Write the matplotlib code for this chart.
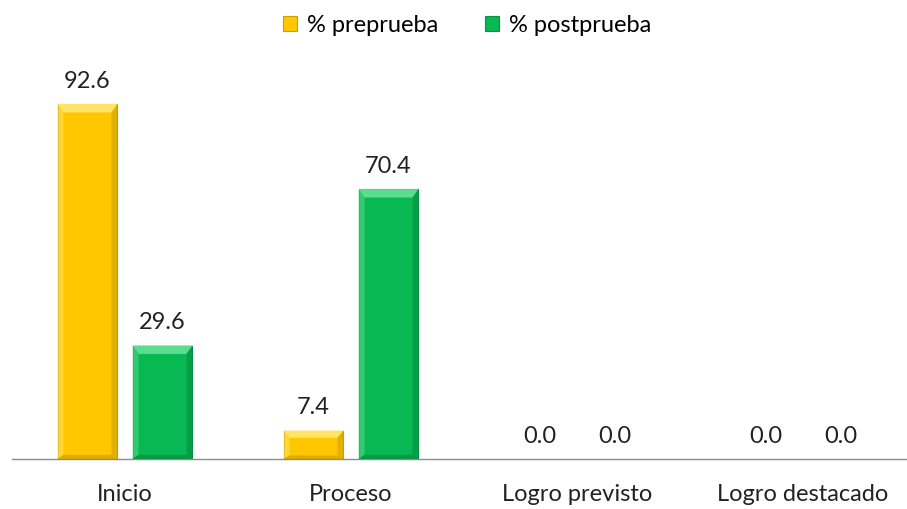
import numpy as np
import matplotlib
matplotlib.use("Agg")
import matplotlib.pyplot as plt
from matplotlib.patches import Polygon

plt.rcParams['font.family'] = ['Lato', 'DejaVu Sans']

categorias = ["Inicio", "Proceso", "Logro previsto", "Logro destacado"]
preprueba = [92.6, 7.4, 0.0, 0.0]
postprueba = [29.6, 70.4, 0.0, 0.0]

c_pre = "#FFC700"
c_post = "#07B853"

fig = plt.figure(figsize=(9.07, 5.09), dpi=100)
ax = fig.add_axes([12/907, 50/509, 895/907, 383.4/509])

x = np.arange(len(categorias))
w = 0.265
off = 0.166


def bisel(ax, bars, claro, oscuro, borde):
    # pequeño efecto de relieve sobre cada barra
    for b in bars:
        h = b.get_height()
        if h <= 0:
            continue
        x0, y0 = b.get_x(), b.get_y()
        bw = b.get_width()
        dx = bw * 0.1
        dy = min(2.2, h * 0.25)
        top = Polygon([(x0, y0 + h), (x0 + bw, y0 + h), (x0 + bw - dx, y0 + h - dy), (x0 + dx, y0 + h - dy)],
                      closed=True, fc=claro, ec="none", zorder=3)
        izq = Polygon([(x0, y0), (x0, y0 + h), (x0 + dx, y0 + h - dy), (x0 + dx, y0 + dy * 0.5)],
                      closed=True, fc=claro, ec="none", alpha=0.5, zorder=3)
        der = Polygon([(x0 + bw, y0), (x0 + bw, y0 + h), (x0 + bw - dx, y0 + h - dy), (x0 + bw - dx, y0 + dy * 0.5)],
                      closed=True, fc=oscuro, ec="none", alpha=0.5, zorder=3)
        bot = Polygon([(x0, y0), (x0 + bw, y0), (x0 + bw - dx, y0 + dy * 0.5), (x0 + dx, y0 + dy * 0.5)],
                      closed=True, fc=oscuro, ec="none", alpha=0.6, zorder=3)
        for p in (top, izq, der, bot):
            ax.add_patch(p)
        b.set_edgecolor(borde)
        b.set_linewidth(0.8)


b1 = ax.bar(x - off, preprueba, w, color=c_pre, label="% preprueba", zorder=2)
b2 = ax.bar(x + off, postprueba, w, color=c_post, label="% postprueba", zorder=2)
bisel(ax, b1, "#FFE566", "#C79A00", "#C9A000")
bisel(ax, b2, "#5BDC8F", "#05883C", "#0A8F45")

for bars, vals in ((b1, preprueba), (b2, postprueba)):
    for b, v in zip(bars, vals):
        ax.text(b.get_x() + b.get_width() / 2, v + 3.2, f"{v:.1f}", ha="center", va="bottom",
                fontsize=17, color="#222222")

ax.set_xlim(-0.5, 3.46)
ax.set_ylim(0, 100)
ax.set_xticks(x)
ax.set_xticklabels(categorias, fontsize=17, color="#222222")
ax.tick_params(axis="x", length=0, pad=18)
ax.set_yticks([])
for s in ("top", "right", "left"):
    ax.spines[s].set_visible(False)
ax.spines["bottom"].set_color("#8C8C8C")
ax.spines["bottom"].set_linewidth(1.0)

fig.legend(handles=[b1, b2], loc="upper center", bbox_to_anchor=(0.515, 1.012), ncol=2, frameon=False,
           fontsize=17, handlelength=0.6, handleheight=0.6, handletextpad=0.4, columnspacing=2.0)

fig.savefig("out.png", dpi=100)
